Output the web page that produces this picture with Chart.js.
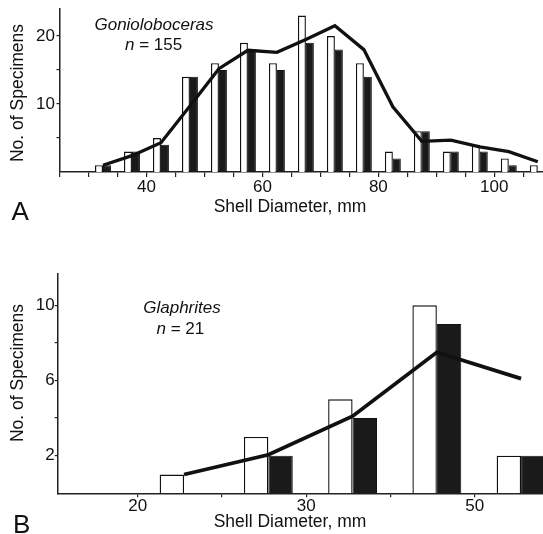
<!DOCTYPE html>
<html>
<head>
<meta charset="utf-8">
<script src="https://cdn.jsdelivr.net/npm/chart.js@4.4.1/dist/chart.umd.min.js"></script>
<style>
    html, body { margin: 0; padding: 0; background: #fff; }
    #wrap { position: relative; width: 543px; height: 534px; }
    #wrap canvas { position: absolute; left: 0; top: 0; }
</style>
</head>
<body>
<div id="wrap">
    <canvas id="chartA" width="543" height="534"></canvas>
    <canvas id="chartB" width="543" height="534"></canvas>
</div>
<script>
// Panel A - Gonioloboceras, 5 mm bins
const binsA = [32.5, 37.5, 42.5, 47.5, 52.5, 57.5, 62.5, 67.5, 72.5, 77.5, 82.5, 87.5, 92.5, 97.5, 102.5, 107.5];
const whiteA = [1, 3, 5, 14, 16, 19, 16, 23, 20, 16, 3, 6, 3, 4, 2, 1];
const blackA = [1, 3, 4, 14, 15, 18, 15, 19, 18, 14, 2, 6, 3, 3, 1, 0];
const lineA = [1.0, 2.4, 4.3, 9.7, 15.2, 17.9, 17.6, 19.5, 21.5, 18.0, 9.6, 4.5, 4.7, 3.7, 3.0, 1.5];
const xTicksA = [25, 30, 35, 40, 45, 50, 55, 60, 65, 70, 75, 80, 85, 90, 95, 100, 105];
const xLabelsA = [40, 60, 80, 100];
const yTicksA = [5, 10, 15, 20];
const yLabelsA = [10, 20];

// Panel B - Glaphrites
const binsB = [15.5, 25.5, 35.5, 45.5, 55.5];
const whiteB = [1, 3, 5, 10, 2];
const blackB = [0, 2, 4, 9, 2];
const lineB = [1.0, 2.05, 4.1, 7.5, 6.1];
const xTicksB = [10, 20, 30, 40, 50];
const xLabelsB = ['20', '', '30', '', '50'];
const yTicksB = [2, 4, 6, 8, 10];
const yLabelsB = [2, 6, 10];

const FONT = '"Liberation Sans", Arial, sans-serif';
const INK = '#111';

const toPoints = (xs, ys) => xs.map((x, i) => ({ x, y: ys[i] }));

// draws genus label, n, panel letter and axis titles
const panelText = {
    id: 'panelText',
    afterDraw(chart, args, o) {
        const ctx = chart.ctx;
        ctx.save();
        ctx.fillStyle = INK;

        ctx.font = '26px ' + FONT;
        ctx.textAlign = 'left';
        ctx.textBaseline = 'alphabetic';
        ctx.fillText(o.letter, o.letterX, o.letterY);

        ctx.font = 'italic 17px ' + FONT;
        ctx.textAlign = 'center';
        ctx.fillText(o.genus, o.genusX, o.genusY);

        ctx.textAlign = 'left';
        ctx.fillText('n', o.countX, o.countY);
        const w = ctx.measureText('n').width;
        ctx.font = '17px ' + FONT;
        ctx.fillText(' = ' + o.count, o.countX + w, o.countY);

        ctx.font = '17.5px ' + FONT;
        ctx.textAlign = 'center';
        ctx.textBaseline = 'middle';
        ctx.fillText('Shell Diameter, mm', o.xTitleX, o.xTitleY);

        ctx.translate(o.yTitleX, o.yTitleY);
        ctx.rotate(-Math.PI / 2);
        ctx.fillText('No. of Specimens', 0, 0);
        ctx.restore();
    }
};

function makeChart(id, cfg) {
    return new Chart(document.getElementById(id), {
        type: 'bar',
        data: {
            datasets: [
                {
                    type: 'line',
                    data: toPoints(cfg.bins, cfg.line),
                    borderColor: INK,
                    borderWidth: cfg.lineWidth,
                    pointRadius: 0,
                    tension: 0,
                    order: 0
                },
                {
                    data: toPoints(cfg.bins, cfg.white),
                    backgroundColor: '#fff',
                    borderColor: INK,
                    borderWidth: 1.4,
                    borderSkipped: 'start',
                    categoryPercentage: cfg.catPct,
                    barPercentage: 1,
                    order: 1
                },
                {
                    data: toPoints(cfg.bins, cfg.black),
                    backgroundColor: '#1a1a1a',
                    borderColor: INK,
                    borderWidth: 1,
                    borderSkipped: 'start',
                    categoryPercentage: cfg.catPct,
                    barPercentage: 1,
                    order: 1
                }
            ]
        },
        options: {
            responsive: false,
            animation: false,
            layout: { padding: cfg.padding },
            plugins: {
                legend: { display: false },
                tooltip: { enabled: false },
                panelText: cfg.text
            },
            scales: {
                x: {
                    type: 'linear',
                    offset: false,
                    min: cfg.xMin,
                    max: cfg.xMax,
                    afterBuildTicks: s => { s.ticks = cfg.xTicks.map(v => ({ value: v })); },
                    afterFit: s => {
                        s.height = 30;
                        s.paddingLeft = 0; s.paddingRight = 0;
                    },
                    grid: { offset: false, drawOnChartArea: false, drawTicks: true, tickLength: cfg.xTickLen, color: '#222', lineWidth: 1.2 },
                    border: { display: true, color: '#222', width: 1.5 },
                    ticks: {
                        autoSkip: false,
                        maxRotation: 0,
                        padding: cfg.xTickPad,
                        color: INK,
                        font: { family: FONT, size: 17 },
                        callback: cfg.xLabel
                    }
                },
                y: {
                    min: 0,
                    max: cfg.yMax,
                    afterBuildTicks: s => { s.ticks = cfg.yTicks.map(v => ({ value: v })); },
                    afterFit: s => {
                        s.width = cfg.yWidth;
                        s.paddingTop = 0; s.paddingBottom = 0;
                    },
                    grid: { drawOnChartArea: false, drawTicks: true, tickLength: 3, color: '#222', lineWidth: 1.2 },
                    border: { display: true, color: '#222', width: 1.5 },
                    ticks: {
                        padding: cfg.yTickPad,
                        color: INK,
                        font: { family: FONT, size: 17 },
                        callback: v => cfg.yLabels.includes(v) ? String(v) : ''
                    }
                }
            }
        },
        plugins: [panelText]
    });
}

makeChart('chartA', {
    bins: binsA, white: whiteA, black: blackA, line: lineA,
    lineWidth: 3.3, catPct: 0.55,
    xMin: 25, xMax: 108.4, xTicks: xTicksA,
    xLabel: v => xLabelsA.includes(v) ? String(v) : '',
    xTickLen: 5, xTickPad: 0.5,
    yMax: 24, yTicks: yTicksA, yLabels: yLabelsA, yWidth: 59.5, yTickPad: 1.5,
    padding: { top: 8.8, left: 0, right: 0, bottom: 534 - 172 - 30 },
    text: {
        letter: 'A', letterX: 11.5, letterY: 219.5,
        genus: 'Gonioloboceras', genusX: 154, genusY: 29.5,
        count: '155', countX: 125, countY: 50,
        xTitleX: 290, xTitleY: 207,
        yTitleX: 18, yTitleY: 93
    }
});

makeChart('chartB', {
    bins: binsB, white: whiteB, black: blackB, line: lineB,
    lineWidth: 3.8, catPct: 0.58,
    xMin: 0.5, xMax: 58.1, xTicks: xTicksB,
    xLabel: v => xLabelsB[xTicksB.indexOf(v)] || '',
    xTickLen: 4, xTickPad: -1,
    yMax: 11.7, yTicks: yTicksB, yLabels: yLabelsB, yWidth: 57.7, yTickPad: 0,
    padding: { top: 273.3, left: 0, right: 0, bottom: 534 - 493.3 - 30 },
    text: {
        letter: 'B', letterX: 13, letterY: 533,
        genus: 'Glaphrites', genusX: 182, genusY: 312.7,
        count: '21', countX: 156.5, countY: 334,
        xTitleX: 290, xTitleY: 522,
        yTitleX: 18, yTitleY: 373
    }
});
</script>
</body>
</html>
